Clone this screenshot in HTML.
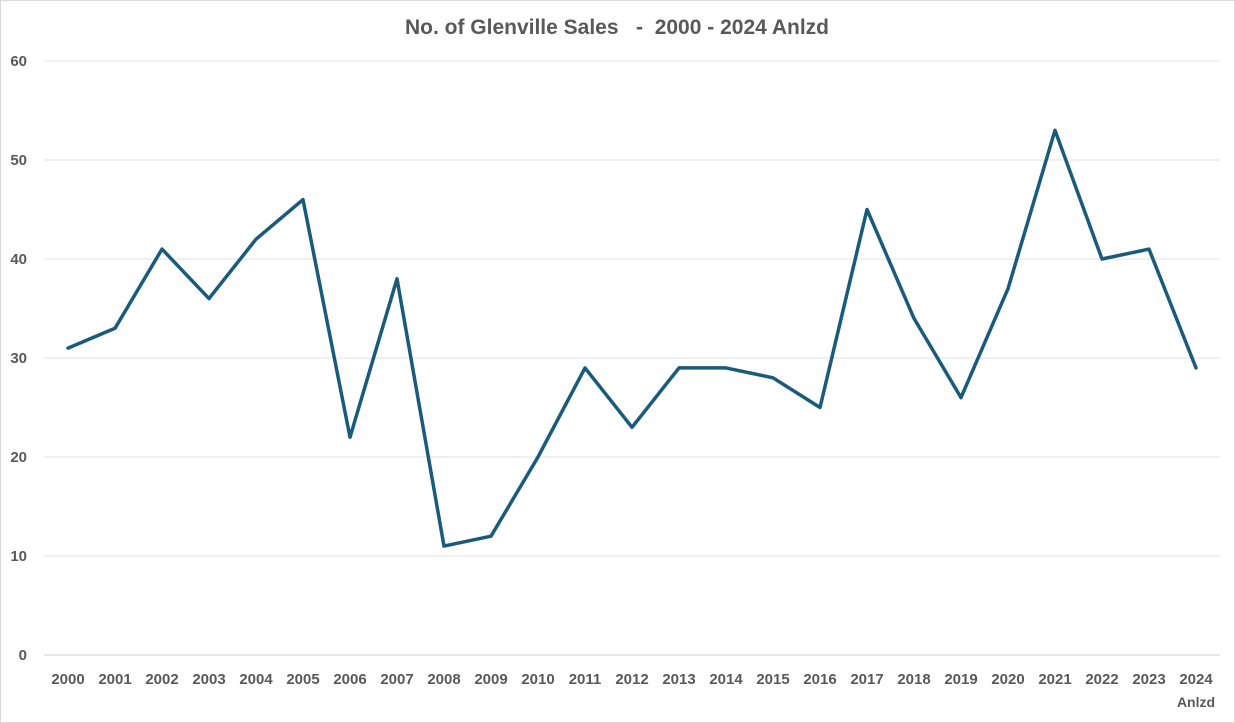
<!DOCTYPE html>
<html><head><meta charset="utf-8">
<style>
html,body{margin:0;padding:0;background:#fff;}
svg{display:block;font-family:"Liberation Sans",Arial,sans-serif;}
</style></head>
<body>
<svg id="chart" width="1235" height="723" viewBox="0 0 1235 723" xmlns="http://www.w3.org/2000/svg">
<rect x="0.5" y="0.5" width="1234" height="722" fill="#fff" stroke="#d9d9d9"/>
<text x="617" y="34" text-anchor="middle" font-size="21" font-weight="bold" fill="#595959" style="white-space:pre" xml:space="preserve">No. of Glenville Sales   -  2000 - 2024 Anlzd</text>
<g id="grid"></g>
<g id="yticks"></g>
<g id="xticks"></g>
<path id="line" fill="none" stroke="#1a5a7a" stroke-width="3.5" stroke-linejoin="round" stroke-linecap="round"/>
</svg>
<script>
const categories = ["2000","2001","2002","2003","2004","2005","2006","2007","2008","2009","2010","2011","2012","2013","2014","2015","2016","2017","2018","2019","2020","2021","2022","2023","2024"];
const salesValues = [31,33,41,36,42,46,22,38,11,12,20,29,23,29,29,28,25,45,34,26,37,53,40,41,29];
const yTicks = [0,10,20,30,40,50,60];

const NS = "http://www.w3.org/2000/svg";
const y = v => 655 - v * (594/60);
const x = i => 68 + i * 47;

const grid = document.getElementById('grid');
const yt = document.getElementById('yticks');
yTicks.forEach(t => {
  const l = document.createElementNS(NS,'line');
  
  
  l.setAttribute('x1',44); l.setAttribute('x2',1220);
  l.setAttribute('y1',y(t)); l.setAttribute('y2',y(t));
  l.setAttribute('stroke',t===0?'#d0d0d0':'#e0e0e0'); l.setAttribute('stroke-width',1);
  grid.appendChild(l);
  const tx = document.createElementNS(NS,'text');
  
  
  tx.setAttribute('x',27); tx.setAttribute('y',y(t)+5);
  tx.setAttribute('text-anchor','end'); tx.setAttribute('font-size','15');
  tx.setAttribute('font-weight','bold'); tx.setAttribute('fill','#595959');
  tx.textContent = t;
  yt.appendChild(tx);
});
const xt = document.getElementById('xticks');
categories.forEach((c,i) => {
  const tx = document.createElementNS(NS,'text');
  
  
  tx.setAttribute('x',x(i)); tx.setAttribute('y',684);
  tx.setAttribute('text-anchor','middle'); tx.setAttribute('font-size','15');
  tx.setAttribute('font-weight','bold'); tx.setAttribute('fill','#595959');
  tx.textContent = c;
  xt.appendChild(tx);
});
const an = document.createElementNS(NS,'text');


an.setAttribute('x',x(categories.length-1)); an.setAttribute('y',707);
an.setAttribute('text-anchor','middle'); an.setAttribute('font-size','14');
an.setAttribute('font-weight','bold'); an.setAttribute('fill','#595959');
an.textContent = 'Anlzd';
xt.appendChild(an);

document.getElementById('line').setAttribute('d',
  salesValues.map((v,i)=>(i?'L':'M')+x(i)+','+y(v)).join(' '));
</script>
</body></html>
